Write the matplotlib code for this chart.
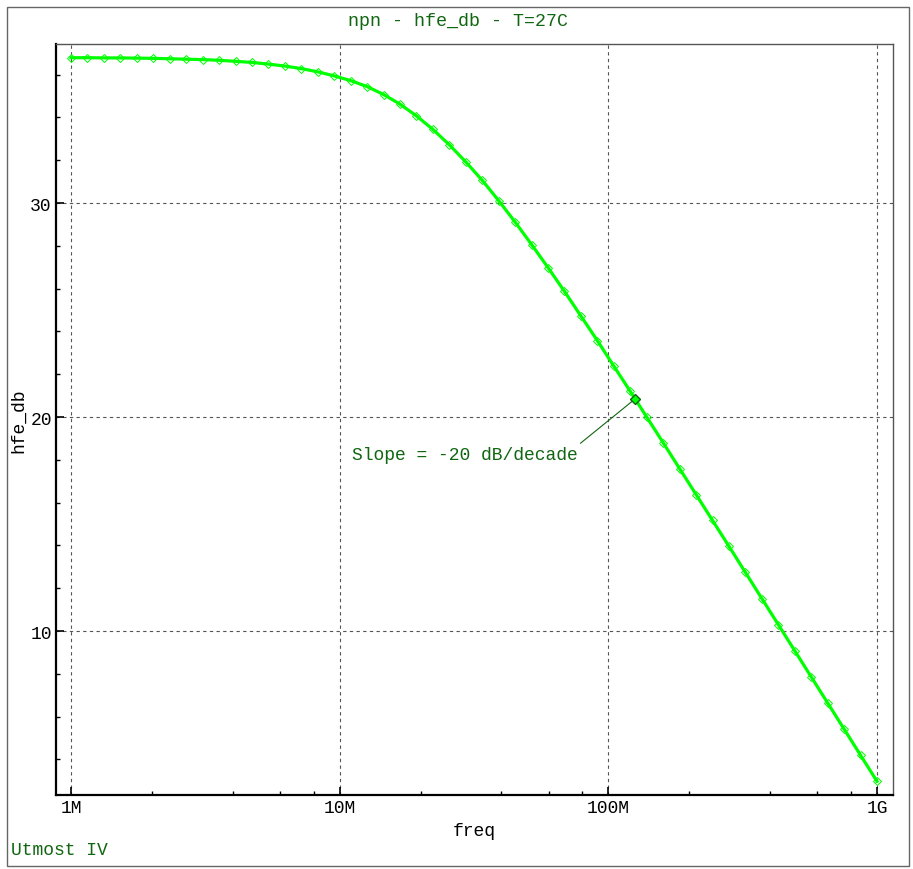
import matplotlib
matplotlib.use("Agg")
import matplotlib.pyplot as plt
from matplotlib.patches import Rectangle
from matplotlib.ticker import FixedLocator, FixedFormatter, NullFormatter

# frequency sweep: 50 log-spaced points from 1 MHz to 1 GHz
freq = [1e6 * 10 ** (3 * i / 49) for i in range(50)]
hfe_db = [36.79, 36.79, 36.78, 36.78, 36.77, 36.76, 36.74, 36.72, 36.70, 36.67,
          36.62, 36.57, 36.49, 36.40, 36.28, 36.13, 35.94, 35.72, 35.44, 35.07,
          34.62, 34.07, 33.44, 32.72, 31.92, 31.06, 30.11, 29.11, 28.06, 26.98,
          25.87, 24.72, 23.57, 22.38, 21.20, 20.00, 18.80, 17.59, 16.38, 15.17,
          13.96, 12.74, 11.52, 10.30, 9.08, 7.86, 6.64, 5.42, 4.20, 2.98]

# annotated point
mark_f = 1.256e8
mark_db = 20.84
note_f = 1.11e7
note_db = 18.27

xticks = [1e6, 1e7, 1e8, 1e9]
xlabels = ["1M", "10M", "100M", "1G"]
xminor = [m * d for d in (1e6, 1e7, 1e8) for m in (2, 4, 6, 8)]
yticks = [10, 20, 30]
yminor = [y for y in range(4, 38, 2) if y not in yticks]

GREEN = "#00ff00"
DKGREEN = "#116611"
MONO = "Liberation Mono"

fig = plt.figure(figsize=(9.13, 8.7), dpi=100)
fig.patch.set_facecolor("white")
fig.patches.append(Rectangle((7 / 913, 1 - 867 / 870), 902 / 913, 859 / 870,
                             transform=fig.transFigure, fill=False,
                             edgecolor="#666666", linewidth=1.0))

ax = fig.add_axes([56 / 913, 1 - 796 / 870, 837 / 913, 751 / 870])
ax.set_xscale("log")
ax.set_xlim(0.879e6, 1.147e9)
ax.set_ylim(2.34, 37.43)

ax.grid(True, which="major", linestyle=(0, (3, 3)), color="#555555", linewidth=0.8)
ax.plot(freq, hfe_db, color=GREEN, linewidth=2.3, marker="D", markersize=4,
        markerfacecolor="none", markeredgecolor=GREEN, markeredgewidth=0.7, zorder=3)
ax.plot([mark_f], [mark_db], marker="D", markersize=5, markerfacecolor=GREEN,
        markeredgecolor=DKGREEN, markeredgewidth=1.0, zorder=4)
ax.annotate("Slope = -20 dB/decade", xy=(mark_f, mark_db), xytext=(note_f, note_db),
            fontsize=13, family=MONO, color=DKGREEN, va="center", ha="left",
            arrowprops=dict(arrowstyle="-", color=DKGREEN, linewidth=0.8,
                            shrinkA=0, shrinkB=0, relpos=(1.0, 1.0)))

ax.xaxis.set_major_locator(FixedLocator(xticks))
ax.xaxis.set_major_formatter(FixedFormatter(xlabels))
ax.xaxis.set_minor_locator(FixedLocator(xminor))
ax.xaxis.set_minor_formatter(NullFormatter())
ax.yaxis.set_major_locator(FixedLocator(yticks))
ax.yaxis.set_minor_locator(FixedLocator(yminor))

ax.tick_params(which="major", direction="in", length=6, width=1.2, color="black",
               labelsize=13, pad=3)
ax.tick_params(which="minor", direction="in", length=3, width=1.0, color="black")
for lbl in ax.get_xticklabels() + ax.get_yticklabels():
    lbl.set_family(MONO)

for side in ("left", "bottom"):
    ax.spines[side].set_color("black")
    ax.spines[side].set_linewidth(1.6)
for side in ("top", "right"):
    ax.spines[side].set_color("#555555")
    ax.spines[side].set_linewidth(1.0)

ax.set_xlabel("freq", fontsize=13, family=MONO, labelpad=4)
ax.set_ylabel("hfe_db", fontsize=13, family=MONO, labelpad=2)

fig.text(458 / 913, 1 - 22 / 870, "npn - hfe_db - T=27C", ha="center", va="center",
         fontsize=13.2, family=MONO, color=DKGREEN)
fig.text(11 / 913, 1 - 851 / 870, "Utmost IV", ha="left", va="center",
         fontsize=13, family=MONO, color=DKGREEN)

fig.savefig("out.png", dpi=100)
